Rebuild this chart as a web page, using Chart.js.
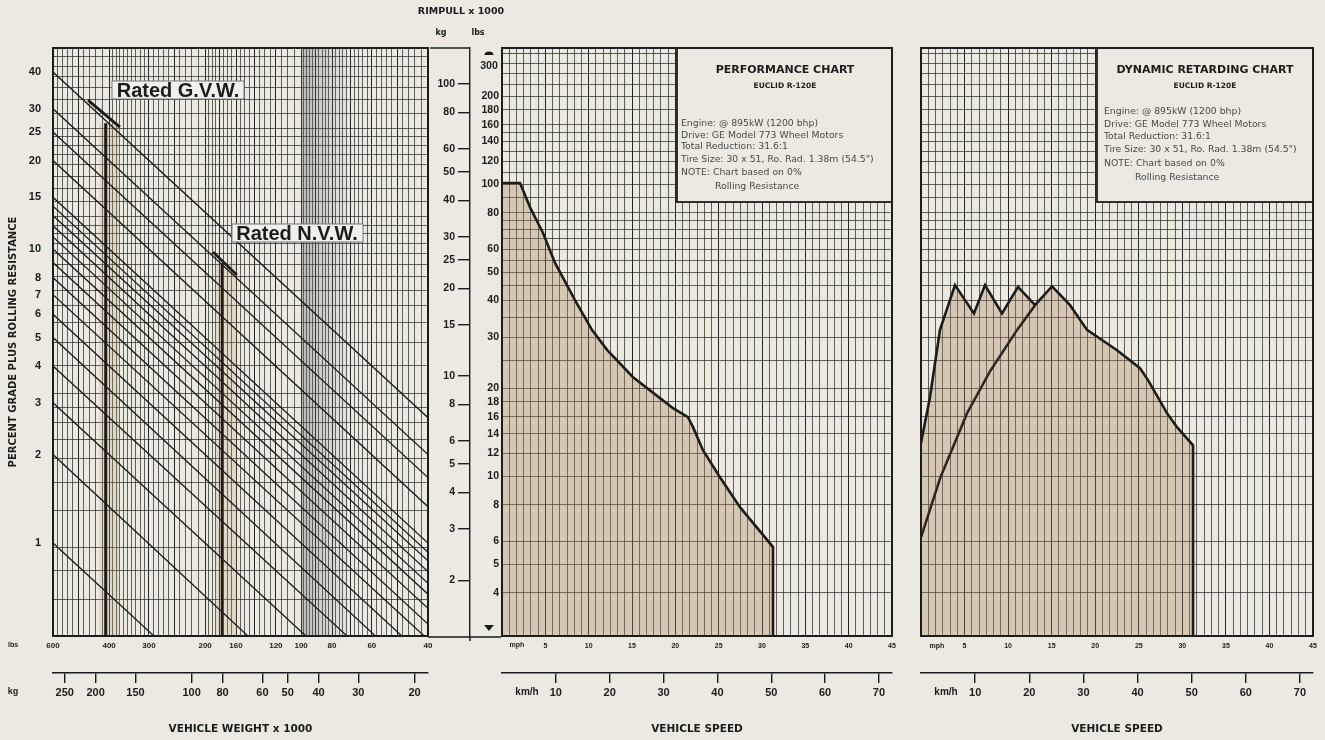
<!DOCTYPE html>
<html>
<head>
<meta charset="utf-8">
<title>Euclid R-120E performance</title>
<script src="https://cdn.jsdelivr.net/npm/chart.js@4.4.0/dist/chart.umd.min.js"></script>
<style>
  html, body { margin: 0; padding: 0; background: #ebe9e0; }
  #wrap { position: relative; width: 1325px; height: 740px; }
  #wrap canvas { position: absolute; left: 0; top: 0; }
</style>
</head>
<body>
<div id="wrap">
  <canvas id="gradeChart" width="1325" height="740"></canvas>
  <canvas id="perfChart" width="1325" height="740"></canvas>
  <canvas id="retardChart" width="1325" height="740"></canvas>
</div>
<script>
// ---- gradeability panel (vehicle weight vs percent grade) ----
const weightLbsLabels = [600, 400, 300, 200, 160, 120, 100, 80, 60, 40];
const weightKgLabels = [250, 200, 150, 100, 80, 60, 50, 40, 30, 20];
const gradeLabels = [40, 30, 25, 20, 15, 10, 8, 7, 6, 5, 4, 3, 2, 1];
const weightEnds = [600, 40];
const gradeAtLeft = [40, 30, 25, 20, 15, 14, 13, 12, 11, 10, 9, 8, 7, 6, 5, 4, 3, 2, 1];
const gradeAtRight = [2.67, 2.0, 1.67, 1.33, 1.0, 0.93, 0.87, 0.8, 0.73, 0.67, 0.6, 0.53, 0.47, 0.4, 0.33, 0.27, 0.2, 0.13, 0.067];
const gvwWeight = 410, gvwTop = 26.8;
const gvwSegWeight = [466, 370], gvwSegGrade = [32.1, 26.0];
const nvwWeight = 177, nvwTop = 8.96;
const nvwSegWeight = [189, 159], nvwSegGrade = [9.77, 8.16];
const gvwBand = [430, 370], nvwBand = [186, 159], grayBand = [100, 72];

// ---- rimpull scale ----
const kgTicks = [100, 80, 60, 50, 40, 30, 25, 20, 15, 10, 8, 6, 5, 4, 3, 2];
const lbsLabels = [200, 180, 160, 140, 120, 100, 80, 60, 50, 40, 30, 20, 18, 16, 14, 12, 10, 8, 6, 5, 4];
const rimpullGridLbs = [4, 5, 6, 8, 10, 12, 14, 16, 18, 20, 25, 30, 35, 40, 45, 50, 55, 60, 65, 70, 75, 80, 90,
  100, 110, 120, 130, 140, 150, 160, 180, 200, 220, 240, 260, 280];

// ---- speed axes ----
const mphLabels = [5, 10, 15, 20, 25, 30, 35, 40, 45];
const kmhTicks = [10, 20, 30, 40, 50, 60, 70];

// ---- performance curve (mph, rimpull kg x 1000) ----
const perfMph = [0, 2.08, 3.23, 4.73, 6.12, 8.42, 10.38, 12.12, 15.12, 18.23, 19.73, 21.46, 22.04, 23.19, 25.15, 27.46, 31.27, 31.27];
const perfKg = [45.8, 45.8, 37.9, 30.9, 24.4, 18.2, 14.4, 12.3, 9.92, 8.41, 7.77, 7.24, 6.69, 5.58, 4.51, 3.56, 2.60, 1.29];

// ---- dynamic retarding curves ----
const retardAMph = [0, 1.03, 2.18, 3.90, 6.08, 7.35, 9.30, 11.14, 13.09];
const retardAKg = [5.9, 8.47, 14.4, 20.5, 16.4, 20.5, 16.4, 20.2, 17.5];
const retardBMph = [0, 2.18, 5.28, 7.92, 11.02, 13.09, 15.04, 17.11, 19.06, 22.5, 25.14, 26.06, 28.24, 29.39, 31.23, 31.23];
const retardBKg = [2.81, 4.47, 7.47, 10.4, 14.4, 17.5, 20.3, 17.5, 14.4, 12.27, 10.65, 9.69, 7.47, 6.69, 5.8, 1.29];

const KG_MIN = 1.29, KG_MAX = 132.8, LB_PER_KG = 2.2046;
const GRADE_MIN = 0.483, GRADE_MAX = 48.3;

const PAPER = '#ebe9e0';
const INK = '#1c1c1a';
const GRID = 'rgba(35,35,32,0.7)';
const GRID_DARK = 'rgba(20,20,18,0.92)';
const FILL = 'rgba(165,130,90,0.32)';
const FONT = '"Liberation Sans", Arial, sans-serif';
const WIDE = '"DejaVu Sans", "Liberation Sans", sans-serif';

const weightGridLbs = [];
for (let v = 600; v > 400; v -= 20) weightGridLbs.push(v);
for (let v = 400; v > 200; v -= 10) weightGridLbs.push(v);
for (let v = 200; v > 100; v -= 5) weightGridLbs.push(v);
for (let v = 100; v >= 40; v -= 2) weightGridLbs.push(v);
const weightDark = [500, 400, 300, 250, 200, 180, 160, 140, 120, 100, 90, 80, 70, 60, 50];

const mphGrid = [];
for (let k = 0; k <= 54; k++) mphGrid.push(+(k * 5 / 6).toFixed(4));

const pts = (xs, ys) => xs.map((x, i) => ({ x, y: ys[i] }));
const fixSize = (w, h) => s => { if (w !== null) s.width = w; if (h !== null) s.height = h; };
const useTicks = values => s => { s.ticks = values.map(v => ({ value: v })); };
const bold = size => ({ family: FONT, size, weight: 'bold' });
const wideBold = size => ({ family: WIDE, size, weight: 'bold' });

// decorations kept outside the option resolver so no defaults leak in
function makeDecor(cfg) {
  return {
    id: 'decor',
    afterDraw(chart) {
      const ctx = chart.ctx, a = chart.chartArea;
      ctx.save();
      for (const b of cfg.boxes || []) {
        ctx.fillStyle = b.bg;
        ctx.fillRect(b.x, b.y, b.w, b.h);
        ctx.lineWidth = b.lw;
        ctx.strokeStyle = b.edge;
        ctx.strokeRect(b.x, b.y, b.w, b.h);
      }
      ctx.lineWidth = 2;
      ctx.strokeStyle = INK;
      ctx.strokeRect(a.left, a.top, a.right - a.left, a.bottom - a.top);
      ctx.lineWidth = 1.5;
      for (const l of cfg.lines || []) {
        ctx.beginPath();
        ctx.moveTo(l[0], l[1]);
        ctx.lineTo(l[2], l[3]);
        ctx.stroke();
      }
      ctx.fillStyle = INK;
      for (const m of cfg.marks || []) {
        ctx.beginPath();
        if (m.up) {
          ctx.ellipse(m.x, m.y + 2, 4.5, 3.5, 0, Math.PI, 0);
        } else {
          ctx.moveTo(m.x - 5, m.y - 3);
          ctx.lineTo(m.x + 5, m.y - 3);
          ctx.lineTo(m.x, m.y + 3);
        }
        ctx.closePath();
        ctx.fill();
      }
      for (const t of cfg.texts || []) {
        ctx.font = t.font;
        ctx.fillStyle = t.ink || INK;
        ctx.textAlign = t.align || 'center';
        ctx.textBaseline = 'middle';
        ctx.fillText(t.text, t.x, t.y);
      }
      ctx.restore();
    }
  };
}

const baseOptions = {
  responsive: false,
  animation: false,
  devicePixelRatio: 1,
  elements: { point: { radius: 0 }, line: { tension: 0 } },
};

// ================= gradeability chart =================
const lineDs = (data, width) => ({ data, borderColor: INK, borderWidth: width, pointRadius: 0, fill: false });
const bandDs = (xs, top, color) => ({
  data: pts(xs, [top, top]), borderWidth: 0, pointRadius: 0, fill: 'start', backgroundColor: color
});

const gradeDatasets = gradeAtLeft.map((g, i) => lineDs(pts(weightEnds, [g, gradeAtRight[i]]), 1.3));
gradeDatasets.push(lineDs(pts([gvwWeight, gvwWeight], [gvwTop, GRADE_MIN]), 3));
gradeDatasets.push(lineDs(pts(gvwSegWeight, gvwSegGrade), 2.8));
gradeDatasets.push(lineDs(pts([nvwWeight, nvwWeight], [nvwTop, GRADE_MIN]), 2.6));
gradeDatasets.push(lineDs(pts(nvwSegWeight, nvwSegGrade), 2.6));
gradeDatasets.push(bandDs(gvwBand, gvwTop, 'rgba(185,150,105,0.22)'));
gradeDatasets.push(bandDs(nvwBand, nvwTop, 'rgba(185,150,105,0.22)'));
const gray = bandDs(grayBand, GRADE_MAX, 'rgba(110,110,110,0.2)');
gray.backgroundColor = c => {
  const chart = c.chart;
  if (!chart.chartArea) return 'rgba(110,110,110,0.2)';
  const xs = chart.scales.x;
  const g = chart.ctx.createLinearGradient(xs.getPixelForValue(grayBand[0]), 0, xs.getPixelForValue(grayBand[1]), 0);
  g.addColorStop(0, 'rgba(90,90,90,0.34)');
  g.addColorStop(1, 'rgba(130,130,130,0.06)');
  return g;
};
gradeDatasets.push(gray);

new Chart(document.getElementById('gradeChart'), {
  type: 'line',
  data: { datasets: gradeDatasets },
  options: {
    ...baseOptions,
    layout: { padding: { left: 0, top: 48, right: 897, bottom: 0 } },
    plugins: { legend: { display: false }, tooltip: { enabled: false } },
    scales: {
      x: {
        type: 'logarithmic', axis: 'x', reverse: true, min: 40, max: 600, position: 'bottom',
        afterBuildTicks: useTicks(weightGridLbs), afterFit: fixSize(null, 37),
        ticks: { autoSkip: false, maxRotation: 0, minRotation: 0, padding: 5, color: INK, font: bold(8),
          callback: v => weightLbsLabels.includes(v) ? String(v) : '' },
        grid: { drawTicks: false, lineWidth: 1,
          color: c => weightDark.includes(c.tick.value) ? GRID_DARK : GRID },
        border: { display: false }
      },
      kg: {
        type: 'logarithmic', axis: 'x', reverse: true, min: 40 / LB_PER_KG, max: 600 / LB_PER_KG, position: 'bottom',
        afterBuildTicks: useTicks(weightKgLabels), afterFit: fixSize(null, 67),
        ticks: { autoSkip: false, maxRotation: 0, minRotation: 0, padding: 3, color: INK, font: bold(11),
          callback: v => String(v) },
        grid: { drawOnChartArea: false, drawTicks: true, tickLength: 10, color: INK, lineWidth: 1.4 },
        border: { display: true, color: INK, width: 1.4 },
        title: { display: true, text: 'VEHICLE WEIGHT x 1000', color: INK, font: wideBold(10.5), padding: { bottom: 4 } }
      },
      y: {
        type: 'logarithmic', axis: 'y', min: GRADE_MIN, max: GRADE_MAX, position: 'left',
        afterBuildTicks: useTicks(gradeLabels), afterFit: fixSize(53, null),
        ticks: { autoSkip: false, padding: 4, color: INK, font: bold(11), callback: v => String(v) },
        grid: { display: false },
        border: { display: false },
        title: { display: true, text: 'PERCENT GRADE PLUS ROLLING RESISTANCE', color: INK, font: wideBold(10), padding: { top: 7 } }
      },
      rim: {
        type: 'logarithmic', axis: 'y', min: 3, max: 300, position: 'right',
        afterBuildTicks: useTicks(rimpullGridLbs), afterFit: fixSize(0, null),
        ticks: { display: false },
        grid: { drawTicks: false, color: GRID, lineWidth: 1 },
        border: { display: false }
      }
    }
  },
  plugins: [makeDecor({
    boxes: [
      { x: 112, y: 81, w: 132, h: 18, bg: '#f1f0ea', edge: '#777', lw: 1 },
      { x: 232, y: 224, w: 131, h: 18, bg: '#f1f0ea', edge: '#777', lw: 1 }
    ],
    texts: [
      { text: 'Rated G.V.W.', x: 178, y: 91, font: 'bold 20px ' + FONT },
      { text: 'Rated N.V.W.', x: 297, y: 234, font: 'bold 20px ' + FONT },
      { text: 'lbs', x: 13, y: 645, font: 'bold 7px ' + FONT },
      { text: 'kg', x: 13, y: 692, font: 'bold 9px ' + FONT }
    ]
  })]
});

// ================= speed chart helpers =================
function speedScales(withRimpullLabels) {
  return {
    x: {
      type: 'linear', axis: 'x', min: 0, max: 45, position: 'bottom',
      afterBuildTicks: useTicks(mphGrid), afterFit: fixSize(null, 37),
      ticks: { autoSkip: false, maxRotation: 0, minRotation: 0, padding: 6, color: INK, font: bold(7),
        callback: v => mphLabels.includes(v) ? String(v) : '' },
      grid: { drawTicks: false, lineWidth: 1,
        color: c => mphLabels.includes(c.tick.value) ? GRID_DARK : GRID },
      border: { display: false }
    },
    kmh: {
      type: 'linear', axis: 'x', min: 0, max: 45 * 1.609344, position: 'bottom',
      afterBuildTicks: useTicks(kmhTicks), afterFit: fixSize(null, 67),
      ticks: { autoSkip: false, maxRotation: 0, minRotation: 0, padding: 3, color: INK, font: bold(11),
        callback: v => String(v) },
      grid: { drawOnChartArea: false, drawTicks: true, tickLength: 10, color: INK, lineWidth: 1.4 },
      border: { display: true, color: INK, width: 1.4 },
      title: { display: true, text: 'VEHICLE SPEED', color: INK, font: wideBold(10.5), padding: { bottom: 4 } }
    },
    lbs: {
      type: 'logarithmic', axis: 'y', min: KG_MIN * LB_PER_KG, max: KG_MAX * LB_PER_KG, position: 'left',
      afterBuildTicks: useTicks(rimpullGridLbs), afterFit: fixSize(withRimpullLabels ? 32 : 0, null),
      ticks: withRimpullLabels
        ? { autoSkip: false, padding: 3, color: INK, font: bold(10.5), callback: v => lbsLabels.includes(v) ? String(v) : '' }
        : { display: false },
      grid: { drawTicks: false, color: GRID, lineWidth: 1 },
      border: { display: false }
    },
    kg: {
      type: 'logarithmic', axis: 'y', min: KG_MIN, max: KG_MAX, position: 'left', display: withRimpullLabels,
      afterBuildTicks: useTicks(kgTicks), afterFit: fixSize(withRimpullLabels ? 40 : 0, null),
      ticks: { autoSkip: false, padding: 3, color: INK, font: bold(10.5), callback: v => String(v) },
      grid: { drawOnChartArea: false, drawTicks: true, tickLength: 12, color: INK, lineWidth: 1.4 },
      border: { display: true, color: INK, width: 1.4 }
    }
  };
}

const infoFont = '9.3px ' + WIDE;
const infoInk = '#4a4a46';
function infoTexts(title, cx, x0, indentX, ys) {
  const rows = ['Engine: @ 895kW (1200 bhp)', 'Drive: GE Model 773 Wheel Motors', 'Total Reduction: 31.6:1',
    'Tire Size: 30 x 51, Ro. Rad. 1.38m (54.5")', 'NOTE: Chart based on 0%', 'Rolling Resistance'];
  const out = [
    { text: title, x: cx, y: 70, font: 'bold 11px ' + WIDE },
    { text: 'EUCLID R-120E', x: cx, y: 86, font: 'bold 7.5px ' + WIDE }
  ];
  rows.forEach((r, i) => out.push({ text: r, x: i === 5 ? indentX : x0, y: ys[i], font: infoFont, ink: infoInk, align: 'left' }));
  return out;
}

// ================= performance chart =================
new Chart(document.getElementById('perfChart'), {
  type: 'line',
  data: {
    datasets: [{
      data: pts(perfMph, perfKg), xAxisID: 'x', yAxisID: 'kg',
      borderColor: INK, borderWidth: 2.6, pointRadius: 0, fill: 'start', backgroundColor: FILL
    }]
  },
  options: {
    ...baseOptions,
    layout: { padding: { left: 430, top: 48, right: 433, bottom: 0 } },
    plugins: { legend: { display: false }, tooltip: { enabled: false } },
    scales: speedScales(true)
  },
  plugins: [makeDecor({
    boxes: [{ x: 677, y: 48, w: 215, h: 154, bg: PAPER, edge: INK, lw: 1.8 }],
    lines: [[430, 48, 470, 48], [470, 636, 470, 641], [428, 637, 501, 637]],
    marks: [{ x: 489, y: 53, up: true }, { x: 489, y: 628, up: false }],
    texts: [
      { text: 'RIMPULL x 1000', x: 461, y: 12, font: 'bold 9.5px ' + WIDE },
      { text: 'kg', x: 441, y: 33, font: 'bold 8px ' + WIDE },
      { text: 'lbs', x: 478, y: 33, font: 'bold 8px ' + WIDE },
      { text: '300', x: 489, y: 66, font: 'bold 10.5px ' + FONT },
      { text: 'mph', x: 517, y: 645, font: 'bold 7px ' + FONT },
      { text: 'km/h', x: 527, y: 692, font: 'bold 10px ' + FONT },
      ...infoTexts('PERFORMANCE CHART', 785, 681, 715, [124, 136, 147, 160, 173, 187])
    ]
  })]
});

// ================= dynamic retarding chart =================
new Chart(document.getElementById('retardChart'), {
  type: 'line',
  data: {
    datasets: [
      { data: pts(retardAMph, retardAKg), xAxisID: 'x', yAxisID: 'kg', borderColor: INK, borderWidth: 2.6,
        pointRadius: 0, fill: { target: 1, above: FILL, below: 'rgba(0,0,0,0)' } },
      { data: pts(retardBMph, retardBKg), xAxisID: 'x', yAxisID: 'kg', borderColor: INK, borderWidth: 2.6,
        pointRadius: 0, fill: 'start', backgroundColor: FILL }
    ]
  },
  options: {
    ...baseOptions,
    layout: { padding: { left: 921, top: 48, right: 12, bottom: 0 } },
    plugins: { legend: { display: false }, tooltip: { enabled: false } },
    scales: speedScales(false)
  },
  plugins: [makeDecor({
    boxes: [{ x: 1097, y: 48, w: 216, h: 154, bg: PAPER, edge: INK, lw: 1.8 }],
    texts: [
      { text: 'mph', x: 937, y: 646, font: 'bold 7px ' + FONT },
      { text: 'km/h', x: 946, y: 692, font: 'bold 10px ' + FONT },
      ...infoTexts('DYNAMIC RETARDING CHART', 1205, 1104, 1135, [112, 125, 137, 150, 164, 178])
    ]
  })]
});
</script>
</body>
</html>
